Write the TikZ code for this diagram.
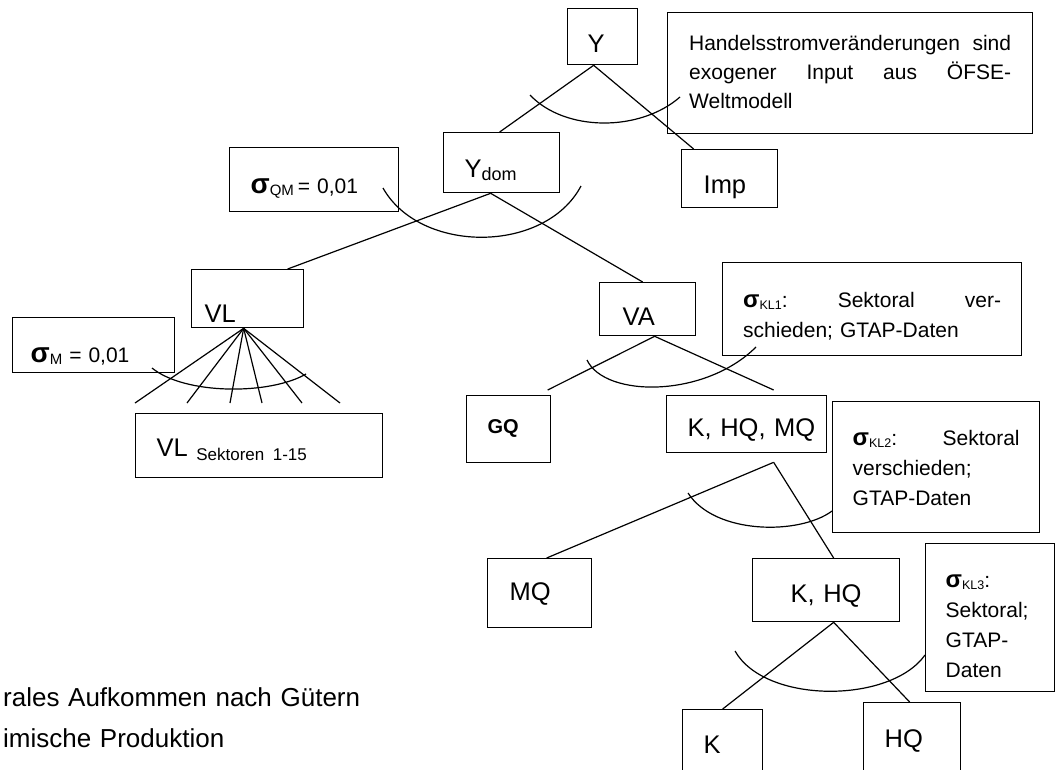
\documentclass[tikz,border=0pt]{standalone}
\usepackage{fontspec}
\setmainfont{Liberation Sans}
\newcommand\fs[2]{\fontsize{#1}{#2}\selectfont}
\begin{document}
\begin{tikzpicture}[x=1pt,y=-1pt,
  bx/.style={draw, line width=1.3pt, anchor=north west, inner ysep=0pt, align=left},
  lab/.style={font=\fs{25.5}{30}},
  ann/.style={font=\fs{21}{30}},
  ln/.style={line width=1.2pt},
  arcl/.style={line width=1.2pt}]
\useasboundingbox (0,0) rectangle (1056,769);

% ---- boxes with one label ----
\node[bx, lab, inner xsep=20pt, text width=30pt, minimum height=56pt, text height=32pt, text depth=0pt] (Y) at (567,8) {Y};
\node[bx, lab, inner xsep=21pt, text width=74pt, minimum height=60pt, text height=30pt, text depth=0pt] (Ydom) at (443,132) {Y\raisebox{-3pt}{\fs{18}{18}dom}};
\node[bx, lab, inner xsep=22pt, text width=52pt, minimum height=58pt, text height=30pt, text depth=0pt] (Imp) at (681,149) {Imp};
\node[bx, ann, inner xsep=21pt, text width=127pt, minimum height=64pt, text height=28pt, text depth=0pt] (sQM) at (229,147) {{\fs{28}{30}\bfseries σ}\raisebox{-2pt}{\fs{15}{15}QM}\hspace{4pt}=~0,01};
\node[bx, lab, inner xsep=13pt, text width=86pt, minimum height=58pt, text height=48pt, text depth=0pt] (VL) at (191,269) {VL};
\node[bx, lab, inner xsep=23pt, text width=50pt, minimum height=53pt, text height=33pt, text depth=0pt] (VA) at (599,282) {VA};
\node[bx, ann, inner xsep=18pt, text width=126pt, minimum height=55pt, text height=35pt, text depth=0pt] (sM) at (12,317) {{\fs{28}{30}\bfseries σ}\raisebox{-2pt}{\fs{15}{15}M}~=~0,01};
\node[bx, lab, inner xsep=21pt, text width=205pt, minimum height=64pt, text height=22pt, text depth=0pt] (VLS) at (135,413) {VL~\raisebox{-4pt}{\fs{17}{17}Sektoren~1-15}};
\node[bx, font=\fs{20}{24}\bfseries, inner xsep=21pt, text width=42pt, minimum height=67pt, text height=9pt, text depth=0pt] (GQ) at (466,395) {GQ};
\node[bx, lab, inner xsep=21pt, text width=118pt, minimum height=57pt, text height=25pt, text depth=0pt] (KHQMQ) at (666,395) {K,~HQ,~MQ};
\node[bx, lab, inner xsep=22pt, text width=60pt, minimum height=69pt, text height=15pt, text depth=0pt] (MQ) at (487,558) {MQ};
\node[bx, lab, inner xsep=38pt, text width=71pt, minimum height=63pt, text height=25pt, text depth=0pt] (KHQ) at (752,558) {K,~HQ};
\node[bx, lab, inner xsep=21pt, text width=38pt, minimum height=70pt, text height=18pt, text depth=0pt] (K) at (682,709) {K};
\node[bx, lab, inner xsep=21pt, text width=55pt, minimum height=77pt, text height=13pt, text depth=0pt] (HQ) at (863,702) {HQ};

% ---- annotation boxes ----
\node[bx, font=\fs{21}{29}, inner xsep=21.5pt, text width=322pt, minimum height=121pt, text height=0pt, text depth=45pt] (Hdl) at (667,12)
  {Handelsstromveränderungen\hfill sind\\exogener\hfill Input\hfill aus\hfill ÖFSE-\\Weltmodell};
\node[bx, ann, inner xsep=20.5pt, text width=258pt, minimum height=93pt, text height=0pt, text depth=3pt] (KL1) at (722,262)
  {{\fs{24}{30}\bfseries σ}\raisebox{-1.5pt}{\fs{12.5}{12.5}KL1}:\hfill Sektoral\hfill ver-\\schieden; GTAP-Daten};
\node[bx, ann, inner xsep=20pt, text width=167pt, minimum height=131pt, text height=0pt, text depth=43pt] (KL2) at (832,401)
  {{\fs{24}{30}\bfseries σ}\raisebox{-1.5pt}{\fs{12.5}{12.5}KL2}:\hfill Sektoral\\verschieden;\\GTAP-Daten};
\node[bx, ann, inner xsep=20pt, text width=89pt, minimum height=148pt, text height=0pt, text depth=60pt] (KL3) at (925,543)
  {{\fs{24}{30}\bfseries σ}\raisebox{-1.5pt}{\fs{12.5}{12.5}KL3}:\\Sektoral;\\GTAP-\\Daten};

% ---- bottom text ----
\node[anchor=base west, inner sep=0pt, text width=420pt, align=left, font=\fs{26}{41}] (legend) at (3,706)
  {rales Aufkommen nach Gütern\\imische Produktion};

% ---- connectors ----
\draw[ln] ([xshift=-9pt]Y.south) -- ([xshift=-2pt]Ydom.north);
\draw[ln] ([xshift=-9pt]Y.south) -- ([xshift=-36pt]Imp.north);
\draw[ln] ([xshift=-11pt]Ydom.south) -- ([xshift=40pt]VL.north);
\draw[ln] ([xshift=-11pt]Ydom.south) -- ([xshift=-5pt]VA.north);

\coordinate (f1) at (135,403);
\coordinate (f2) at (187,403);
\coordinate (f3) at (230,403);
\coordinate (f4) at (262,403);
\coordinate (f5) at (302,403);
\coordinate (f6) at (340,403);
\foreach \f in {f1,f2,f3,f4,f5,f6}
  \draw[ln] ([xshift=-4pt]VL.south) -- (\f);

\draw[ln] ([xshift=7pt]VA.south) -- ([xshift=39pt,yshift=5pt]GQ.north);
\draw[ln] ([xshift=7pt]VA.south) -- ([xshift=27pt,yshift=5pt]KHQMQ.north);
\draw[ln] ([xshift=27pt,yshift=-9pt]KHQMQ.south) -- ([xshift=7pt]MQ.north);
\draw[ln] ([xshift=27pt,yshift=-9pt]KHQMQ.south) -- ([xshift=7.5pt]KHQ.north);
\draw[ln] ([xshift=7.5pt]KHQ.south) -- (K.north);
\draw[ln] ([xshift=7.5pt]KHQ.south) -- ([xshift=-2.5pt]HQ.north);

% ---- elasticity arcs ----
\draw[arcl] (530,95) .. controls (565,132) and (640,132) .. (680,97);
\draw[arcl] (383,188) .. controls (420,254) and (545,254) .. (581,186);
\draw[arcl] (152,368) .. controls (185,395) and (270,395) .. (306,374);
\draw[arcl] (587,360) .. controls (605,398) and (705,398) .. (756,347);
\draw[arcl] (688,493) .. controls (715,535) and (800,535) .. (832,511);
\draw[arcl] (735,651) .. controls (765,704) and (890,704) .. (925,655);
\end{tikzpicture}
\end{document}
